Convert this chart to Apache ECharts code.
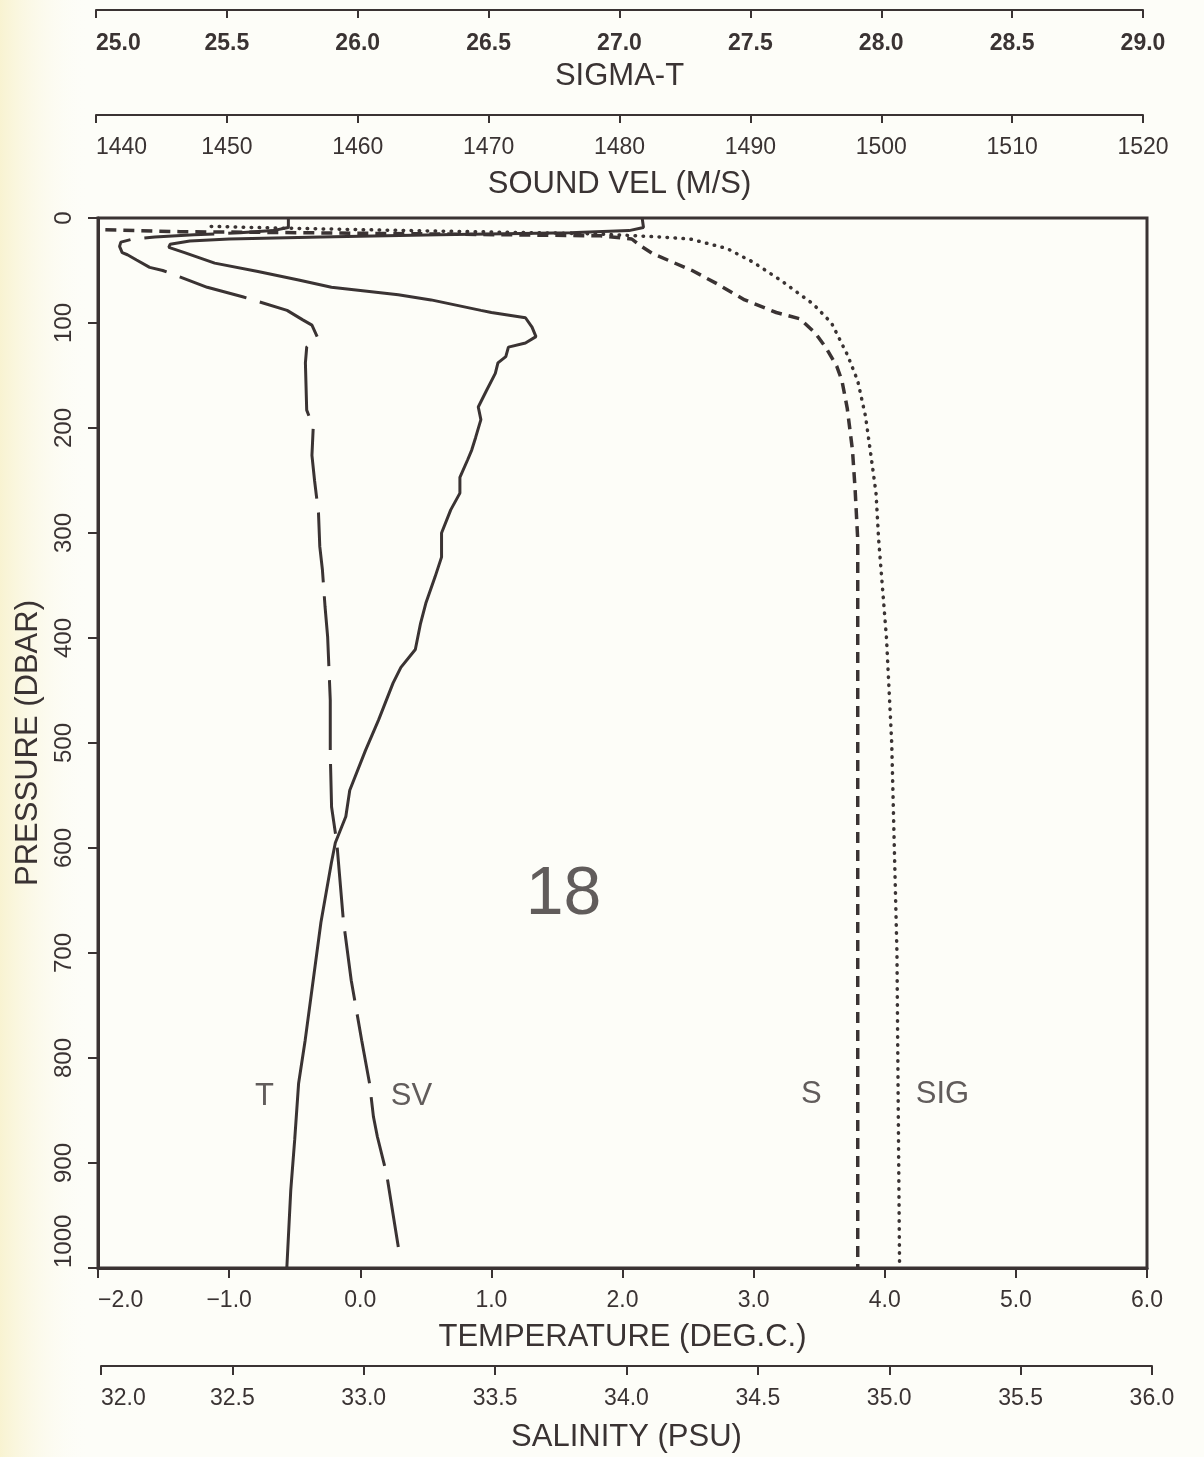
<!DOCTYPE html>
<html>
<head>
<meta charset="utf-8">
<title>Station 18 profile</title>
<script src="https://cdn.jsdelivr.net/npm/echarts@6/dist/echarts.min.js"></script>
<style>
  html, body { margin: 0; padding: 0; background: #fdfdf8; }
  #chart { width: 1204px; height: 1457px; }
</style>
</head>
<body>
<div id="chart"></div>
<script>
// Profile data (pressure in dbar)
const tempPressure = [0, 9, 12, 14, 16, 18, 20, 22, 25, 28, 33, 43, 51, 59, 66, 73, 78, 88, 90, 95, 104, 113, 119, 123, 132, 138, 148, 165, 180, 192, 209, 221, 230, 247, 262, 278, 300, 323, 342, 367, 386, 411, 428, 443, 478, 507, 545, 570, 595, 614, 671, 783, 824, 878, 926, 1000];
const tempValues = [2.15, 2.16, 2.05, 1.6, 0.6, -0.3, -1.0, -1.3, -1.45, -1.46, -1.34, -1.11, -0.78, -0.47, -0.22, 0.29, 0.54, 0.92, 1.0, 1.26, 1.31, 1.34, 1.26, 1.13, 1.11, 1.05, 1.03, 0.96, 0.9, 0.92, 0.88, 0.85, 0.82, 0.76, 0.76, 0.69, 0.62, 0.62, 0.57, 0.5, 0.46, 0.42, 0.31, 0.25, 0.14, 0.04, -0.08, -0.11, -0.19, -0.22, -0.3, -0.42, -0.47, -0.5, -0.53, -0.56];

const svPressure = [0, 9, 12, 14, 16, 18, 20, 23, 27, 33, 35, 40, 47, 50, 57, 66, 75, 88, 97, 102, 113, 123, 138, 183, 199, 226, 250, 281, 313, 335, 370, 399, 459, 510, 561, 595, 669, 726, 783, 824, 856, 875, 910, 980];
const svValues = [1454.7, 1454.7, 1453.5, 1451.0, 1447.5, 1444.5, 1442.8, 1441.9, 1441.8, 1442.0, 1442.4, 1443.1, 1444.1, 1445.1, 1446.6, 1448.5, 1451.2, 1454.6, 1455.8, 1456.5, 1456.9, 1456.1, 1456.0, 1456.1, 1456.6, 1456.5, 1456.7, 1457.0, 1457.1, 1457.3, 1457.5, 1457.7, 1457.9, 1457.9, 1458.0, 1458.4, 1458.9, 1459.5, 1460.3, 1460.9, 1461.2, 1461.5, 1462.2, 1463.1];

const salPressure = [3, 11, 13, 15, 17, 20, 26, 34, 50, 62, 78, 90, 96, 110, 124, 141, 155, 181, 221, 258, 306, 500, 800, 1000];
const salValues = [31.98, 31.98, 32.3, 33.2, 33.9, 34.02, 34.05, 34.1, 34.25, 34.34, 34.45, 34.57, 34.66, 34.72, 34.76, 34.8, 34.82, 34.84, 34.86, 34.87, 34.88, 34.88, 34.88, 34.88];

const sigPressure = [8, 9.5, 12, 15, 18, 20, 29, 42, 60, 82, 100, 130, 155, 189, 225, 262, 306, 400, 500, 700, 1000];
const sigValues = [25.44, 25.68, 26.2, 26.9, 27.15, 27.27, 27.41, 27.51, 27.62, 27.74, 27.81, 27.87, 27.91, 27.94, 27.96, 27.98, 27.99, 28.02, 28.04, 28.06, 28.07];

// Tick labels as printed
const tempTicks = ['\u22122.0', '\u22121.0', '0.0', '1.0', '2.0', '3.0', '4.0', '5.0', '6.0'];
const salTicks = ['32.0', '32.5', '33.0', '33.5', '34.0', '34.5', '35.0', '35.5', '36.0'];
const sigTicks = ['25.0', '25.5', '26.0', '26.5', '27.0', '27.5', '28.0', '28.5', '29.0'];
const svTicks = ['1440', '1450', '1460', '1470', '1480', '1490', '1500', '1510', '1520'];
const pressureTicks = ['0', '100', '200', '300', '400', '500', '600', '700', '800', '900', '1000'];

// Curve labels and station number, placed in temperature / pressure units
const noteTexts = ['T', 'SV', 'S', 'SIG'];
const noteTemps = [-0.73, 0.39, 3.44, 4.44];
const notePressures = [837, 837, 835, 835];
const stationText = ['18'];
const stationTemp = [1.55];
const stationPressure = [645];

const ink = '#3a3333';
const font = 'Liberation Sans';

const pick = (labels, min, step) => v => {
    const i = Math.round((v - min) / step);
    return labels[i] !== undefined ? labels[i] : '';
};

const zip = (xs, ps) => xs.map((x, i) => [x, ps[i]]);

const chart = echarts.init(document.getElementById('chart'), null, { renderer: 'canvas' });

const gridBase = { top: 218, bottom: 189, outerBoundsMode: 'none', containLabel: false };
const hiddenY = gridIndex => ({
    type: 'value', gridIndex: gridIndex, min: 0, max: 1000, inverse: true, show: false
});

const axisCommon = {
    type: 'value',
    nameLocation: 'middle',
    nameMoveOverlap: false,
    splitLine: { show: false }
};

const option = {
    backgroundColor: '#fdfdf8',
    animation: false,
    textStyle: { fontFamily: font, color: ink },
    graphic: [{
        type: 'rect',
        left: 0, top: 0,
        shape: { width: 90, height: 1457 },
        style: {
            fill: new echarts.graphic.LinearGradient(0, 0, 1, 0, [
                { offset: 0, color: 'rgba(248, 242, 205, 0.9)' },
                { offset: 1, color: 'rgba(253, 253, 248, 0)' }
            ])
        },
        silent: true,
        z: -10
    }],
    grid: [
        Object.assign({ left: 98, right: 57, show: true, borderColor: ink, borderWidth: 3, backgroundColor: 'transparent' }, gridBase),
        Object.assign({ left: 96, right: 61 }, gridBase),
        Object.assign({ left: 96, right: 61 }, gridBase),
        Object.assign({ left: 101, right: 52 }, gridBase)
    ],
    xAxis: [
        Object.assign({}, axisCommon, {
            gridIndex: 0, position: 'bottom', min: -2, max: 6, interval: 1,
            axisLine: { show: true, onZero: false, lineStyle: { color: ink, width: 3 } },
            axisTick: { show: true, length: 10, lineStyle: { color: ink, width: 2 } },
            axisLabel: {
                fontSize: 23, color: ink, margin: 21, showMinLabel: true, showMaxLabel: true,
                alignMinLabel: 'left',
                formatter: pick(tempTicks, -2, 1)
            },
            name: 'TEMPERATURE (DEG.C.)', nameGap: 69,
            nameTextStyle: { fontSize: 31, color: ink, verticalAlign: 'middle' }
        }),
        Object.assign({}, axisCommon, {
            gridIndex: 1, position: 'top', offset: 208, min: 25, max: 29, interval: 0.5,
            axisLine: { show: true, onZero: false, lineStyle: { color: ink, width: 2 } },
            axisTick: { show: true, inside: true, length: 8, lineStyle: { color: ink, width: 2 } },
            axisLabel: {
                inside: true, fontSize: 23, fontWeight: 'bold', color: ink, margin: 22,
                showMinLabel: true, showMaxLabel: true, alignMinLabel: 'left',
                formatter: pick(sigTicks, 25, 0.5)
            },
            name: 'SIGMA-T', nameGap: -66,
            nameTextStyle: { fontSize: 31, color: ink, verticalAlign: 'middle' }
        }),
        Object.assign({}, axisCommon, {
            gridIndex: 2, position: 'top', offset: 103, min: 1440, max: 1520, interval: 10,
            axisLine: { show: true, onZero: false, lineStyle: { color: ink, width: 2 } },
            axisTick: { show: true, inside: true, length: 8, lineStyle: { color: ink, width: 2 } },
            axisLabel: {
                inside: true, fontSize: 23, color: ink, margin: 21,
                showMinLabel: true, showMaxLabel: true, alignMinLabel: 'left',
                formatter: pick(svTicks, 1440, 10)
            },
            name: 'SOUND VEL (M/S)', nameGap: -69,
            nameTextStyle: { fontSize: 31, color: ink, verticalAlign: 'middle' }
        }),
        Object.assign({}, axisCommon, {
            gridIndex: 3, position: 'bottom', offset: 98, min: 32, max: 36, interval: 0.5,
            axisLine: { show: true, onZero: false, lineStyle: { color: ink, width: 2 } },
            axisTick: { show: true, length: 9, lineStyle: { color: ink, width: 2 } },
            axisLabel: {
                fontSize: 23, color: ink, margin: 21,
                showMinLabel: true, showMaxLabel: true, alignMinLabel: 'left',
                formatter: pick(salTicks, 32, 0.5)
            },
            name: 'SALINITY (PSU)', nameGap: 71,
            nameTextStyle: { fontSize: 31, color: ink, verticalAlign: 'middle' }
        })
    ],
    yAxis: [
        {
            type: 'value', gridIndex: 0, min: 0, max: 1000, interval: 100, inverse: true,
            nameLocation: 'middle', nameMoveOverlap: false,
            name: 'PRESSURE (DBAR)', nameGap: 70, nameRotate: 90,
            nameTextStyle: { fontSize: 31, color: ink, verticalAlign: 'middle' },
            splitLine: { show: false },
            axisLine: { show: true, onZero: false, lineStyle: { color: ink, width: 3 } },
            axisTick: { show: true, length: 10, lineStyle: { color: ink, width: 2 } },
            axisLabel: {
                rotate: 90, fontSize: 24, color: ink, margin: 22,
                showMinLabel: true, showMaxLabel: true, alignMaxLabel: 'left',
                formatter: pick(pressureTicks, 0, 100)
            }
        },
        hiddenY(1), hiddenY(2), hiddenY(3)
    ],
    series: [
        {
            name: 'T', type: 'line', xAxisIndex: 0, yAxisIndex: 0,
            data: zip(tempValues, tempPressure),
            symbol: 'none', smooth: false,
            lineStyle: { color: ink, width: 3 }
        },
        {
            name: 'SV', type: 'line', xAxisIndex: 2, yAxisIndex: 2,
            data: zip(svValues, svPressure),
            symbol: 'none',
            lineStyle: { color: ink, width: 3, type: [70, 14] }
        },
        {
            name: 'S', type: 'line', xAxisIndex: 3, yAxisIndex: 3,
            data: zip(salValues, salPressure),
            symbol: 'none',
            lineStyle: { color: ink, width: 3.5, type: [11, 7] }
        },
        {
            name: 'SIG', type: 'line', xAxisIndex: 1, yAxisIndex: 1,
            data: zip(sigValues, sigPressure),
            symbol: 'none',
            lineStyle: { color: ink, width: 3.5, type: [0.5, 7.5], cap: 'round' }
        },
        {
            name: 'notes', type: 'scatter', xAxisIndex: 0, yAxisIndex: 0,
            symbolSize: 0, silent: true,
            data: noteTexts.map((t, i) => ({ name: t, value: [noteTemps[i], notePressures[i]] })),
            label: {
                show: true, position: 'inside', formatter: '{b}',
                fontSize: 31, color: ink, fontFamily: font
            }
        },
        {
            name: 'station', type: 'scatter', xAxisIndex: 0, yAxisIndex: 0,
            symbolSize: 0, silent: true,
            data: stationText.map((t, i) => ({ name: t, value: [stationTemp[i], stationPressure[i]] })),
            label: {
                show: true, position: 'inside', formatter: '{b}',
                fontSize: 68, color: ink, fontFamily: font
            }
        }
    ]
};

chart.setOption(option);
window.addEventListener('resize', () => chart.resize());
</script>
</body>
</html>
